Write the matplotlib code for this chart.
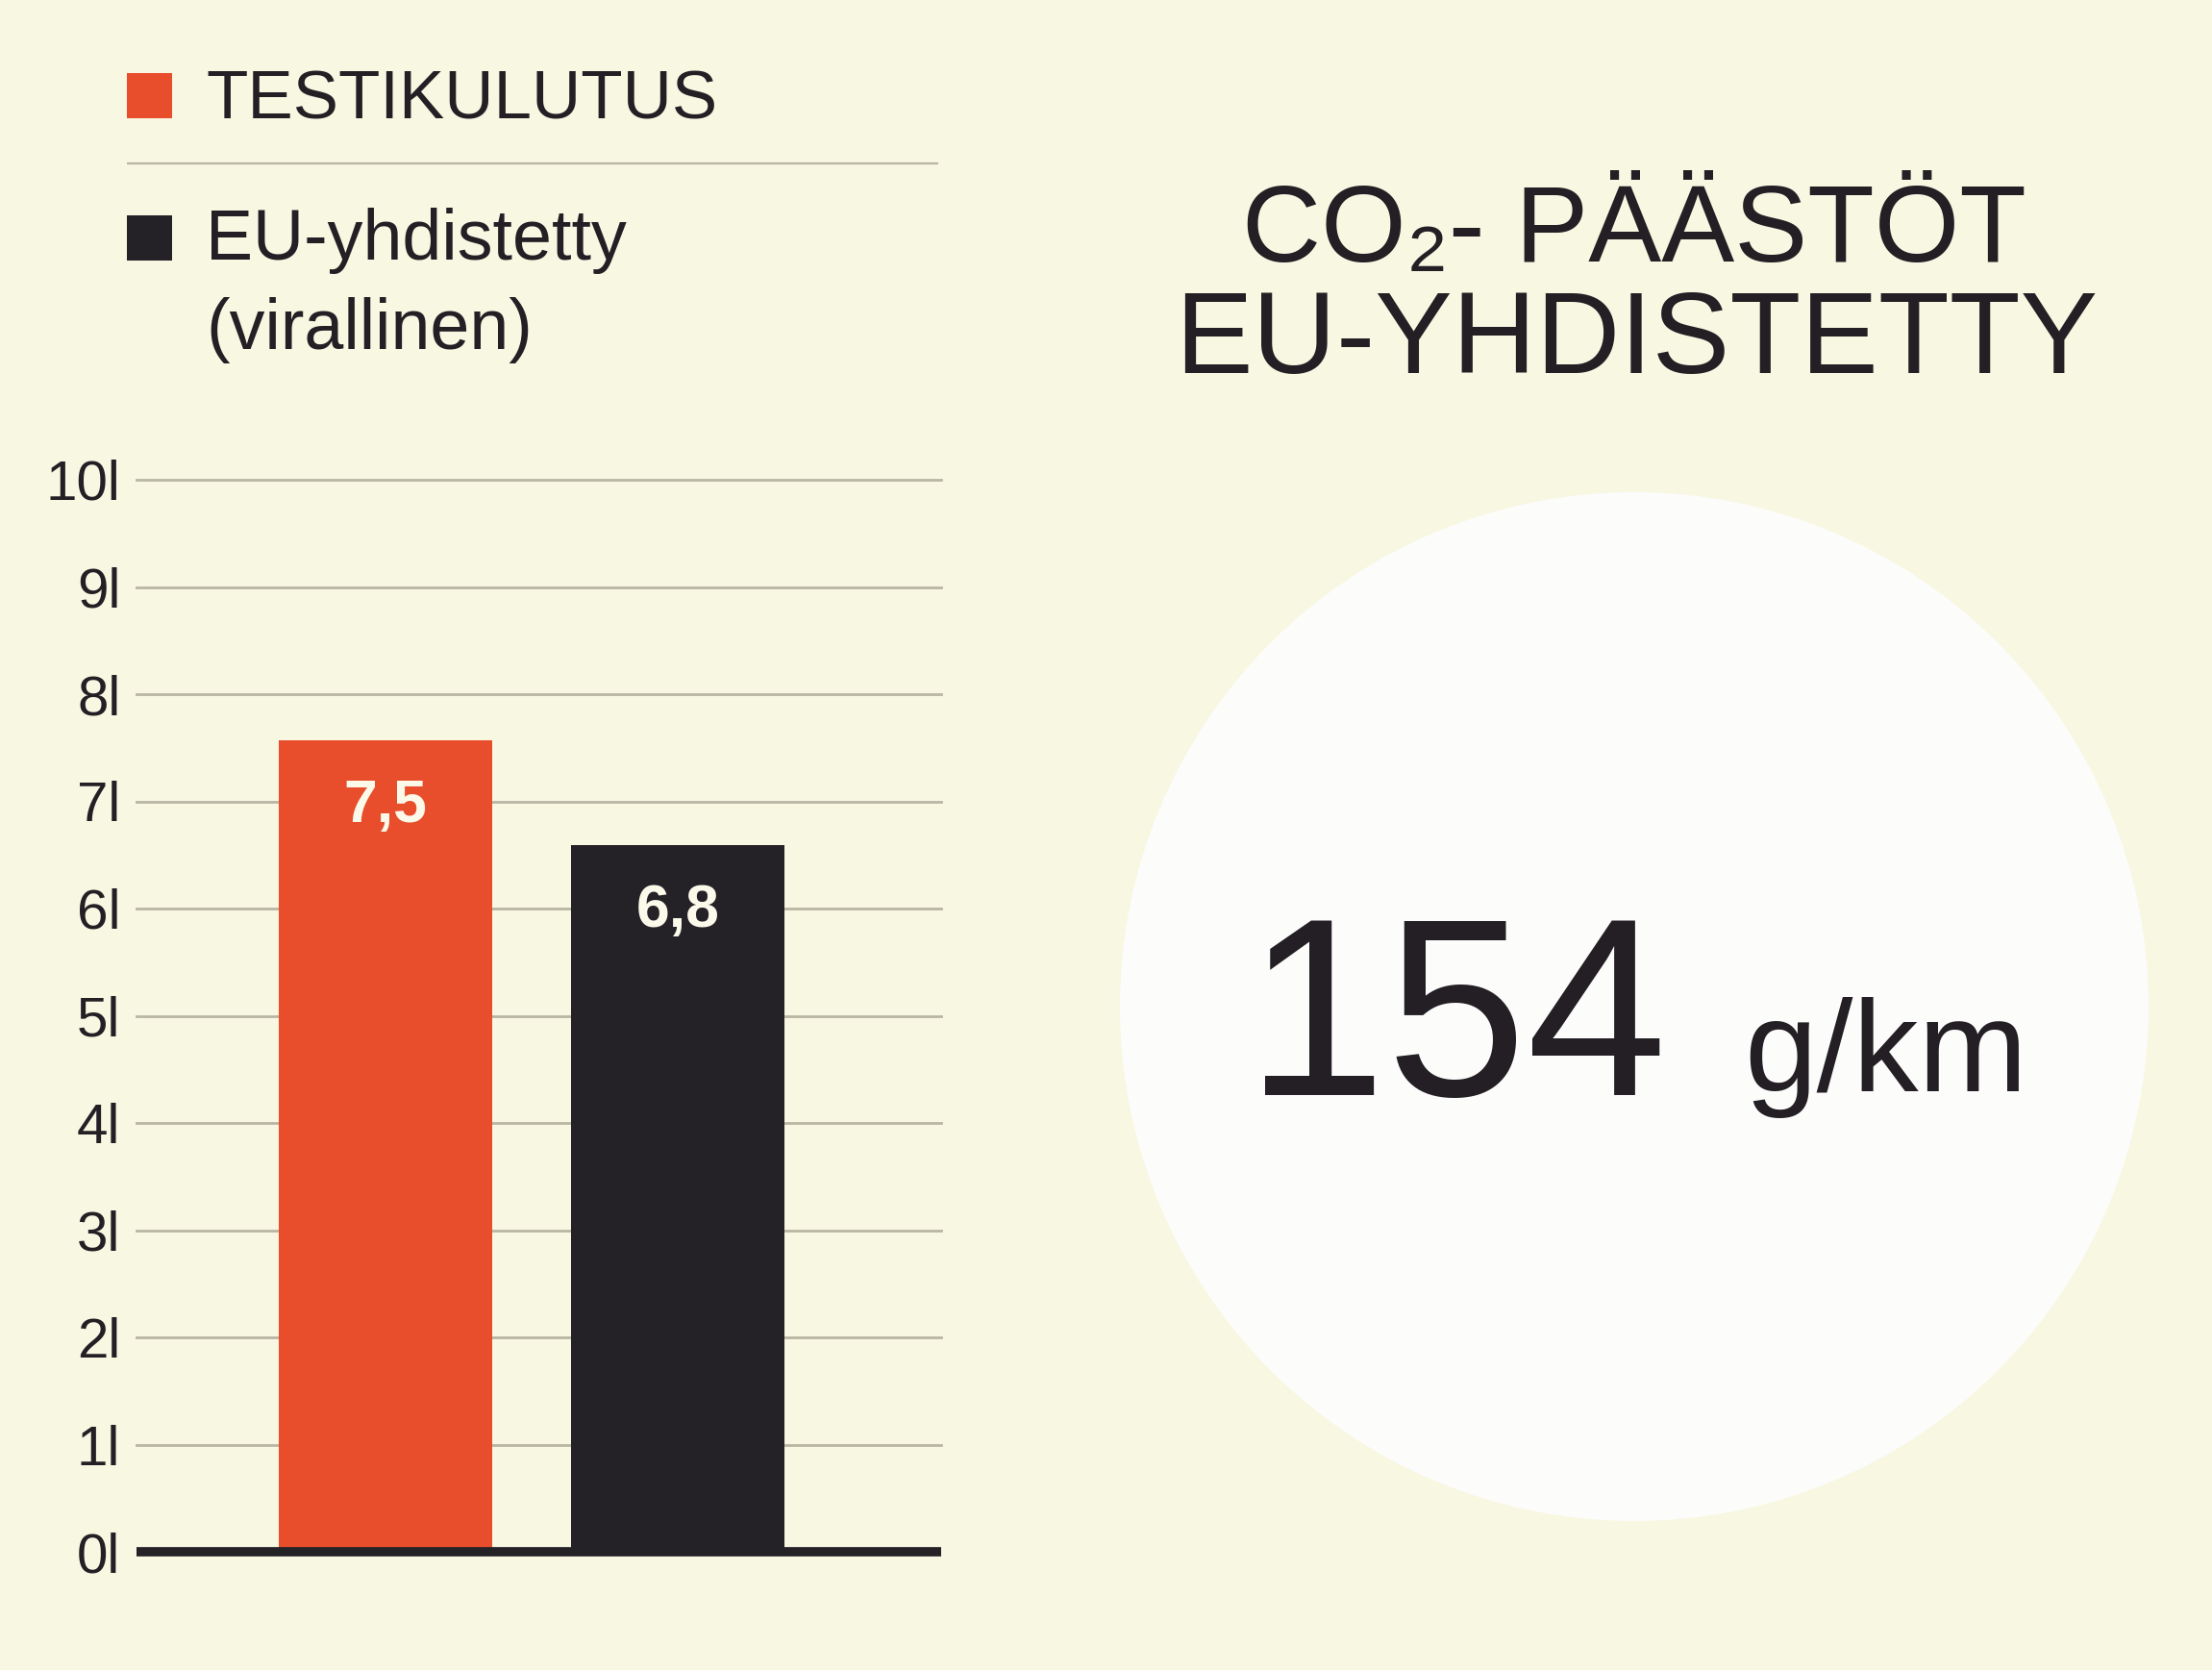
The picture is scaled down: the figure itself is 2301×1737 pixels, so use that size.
import matplotlib
matplotlib.use("Agg")
import matplotlib.pyplot as plt
from matplotlib.patches import Circle, Rectangle

# ---------------- data ----------------
categories = ["TESTIKULUTUS", "EU-yhdistetty (virallinen)"]
bar_heights = [7.57, 6.59]          # bar heights as drawn (litres / 100 km)
value_labels = ["7,5", "6,8"]       # printed values
y_ticks = [0, 1, 2, 3, 4, 5, 6, 7, 8, 9, 10]
y_tick_labels = ["0l", "1l", "2l", "3l", "4l", "5l", "6l", "7l", "8l", "9l", "10l"]
legend_line1 = "TESTIKULUTUS"
legend_line2 = ["EU-yhdistetty", "(virallinen)"]
title_lines = ["CO₂- PÄÄSTÖT", "EU-YHDISTETTY"]
co2_value = "154"
co2_unit = "g/km"

# ---------------- style ----------------
W, H, DPI = 2301, 1737, 100
BG = "#f8f7e2"
CIRCLE = "#fcfdfb"
ORANGE = "#e84e2b"
DARK = "#242227"
GRID = "#b9b7a4"
TEXT = "#231f24"
LABEL = "#fbf9ea"
bar_colors = [ORANGE, DARK]
FONT = ["Liberation Sans", "DejaVu Sans"]
plt.rcParams["font.family"] = FONT

fig = plt.figure(figsize=(W / DPI, H / DPI), dpi=DPI, facecolor=BG)

# background layer in pixel coordinates (y downwards)
bg = fig.add_axes([0, 0, 1, 1])
bg.set_xlim(0, W)
bg.set_ylim(H, 0)
bg.axis("off")
bg.add_patch(Circle((1700, 1047), 535, facecolor=CIRCLE, edgecolor="none"))

# legend
bg.add_patch(Rectangle((132, 76), 47, 47, facecolor=ORANGE, edgecolor="none"))
bg.add_patch(Rectangle((132, 224), 47, 47, facecolor=DARK, edgecolor="none"))
bg.plot([132, 976], [170, 170], color=GRID, lw=1.6, solid_capstyle="butt")
bg.text(214, 123, legend_line1, fontsize=51, color=TEXT, ha="left", va="baseline")
bg.text(214, 270, legend_line2[0], fontsize=53, color=TEXT, ha="left", va="baseline")
bg.text(214, 363, legend_line2[1], fontsize=53, color=TEXT, ha="left", va="baseline")

# title
bg.text(1700, 272, title_lines[0], fontsize=82, color=TEXT, ha="center", va="baseline")
bg.text(1702, 388, title_lines[1], fontsize=87, color=TEXT, ha="center", va="baseline")

# big number
bg.text(1296, 1139, co2_value, fontsize=189, color=TEXT, ha="left", va="baseline")
bg.text(1814, 1135, co2_unit, fontsize=98, color=TEXT, ha="left", va="baseline")

# ---------------- bar chart ----------------
ax = fig.add_axes([142 / W, (H - 1614) / H, (979 - 142) / W, (1614 - 499) / H])
ax.patch.set_alpha(0)
xpos = list(range(len(categories)))
ax.bar(xpos, bar_heights, width=0.73, color=bar_colors, zorder=3)
ax.set_xlim(-0.852, 1.901)
ax.set_ylim(0, 10)
for v in y_ticks[1:]:
    ax.axhline(v, color=GRID, lw=2, zorder=1, clip_on=False)
ax.axhline(0, color=DARK, lw=7, zorder=4, clip_on=False, solid_capstyle="butt")
for s in ax.spines.values():
    s.set_visible(False)
ax.set_xticks([])
ax.set_yticks(y_ticks)
ax.set_yticklabels(y_tick_labels)
ax.tick_params(axis="y", length=0, pad=12, labelsize=42, labelcolor=TEXT)

for xi, h, lab in zip(xpos, bar_heights, value_labels):
    ax.annotate(lab, (xi, h), xytext=(0, -49), textcoords="offset points",
                ha="center", va="center", fontsize=45, fontweight="bold",
                color=LABEL, zorder=5)

fig.savefig("out.png", dpi=DPI, facecolor=BG)
